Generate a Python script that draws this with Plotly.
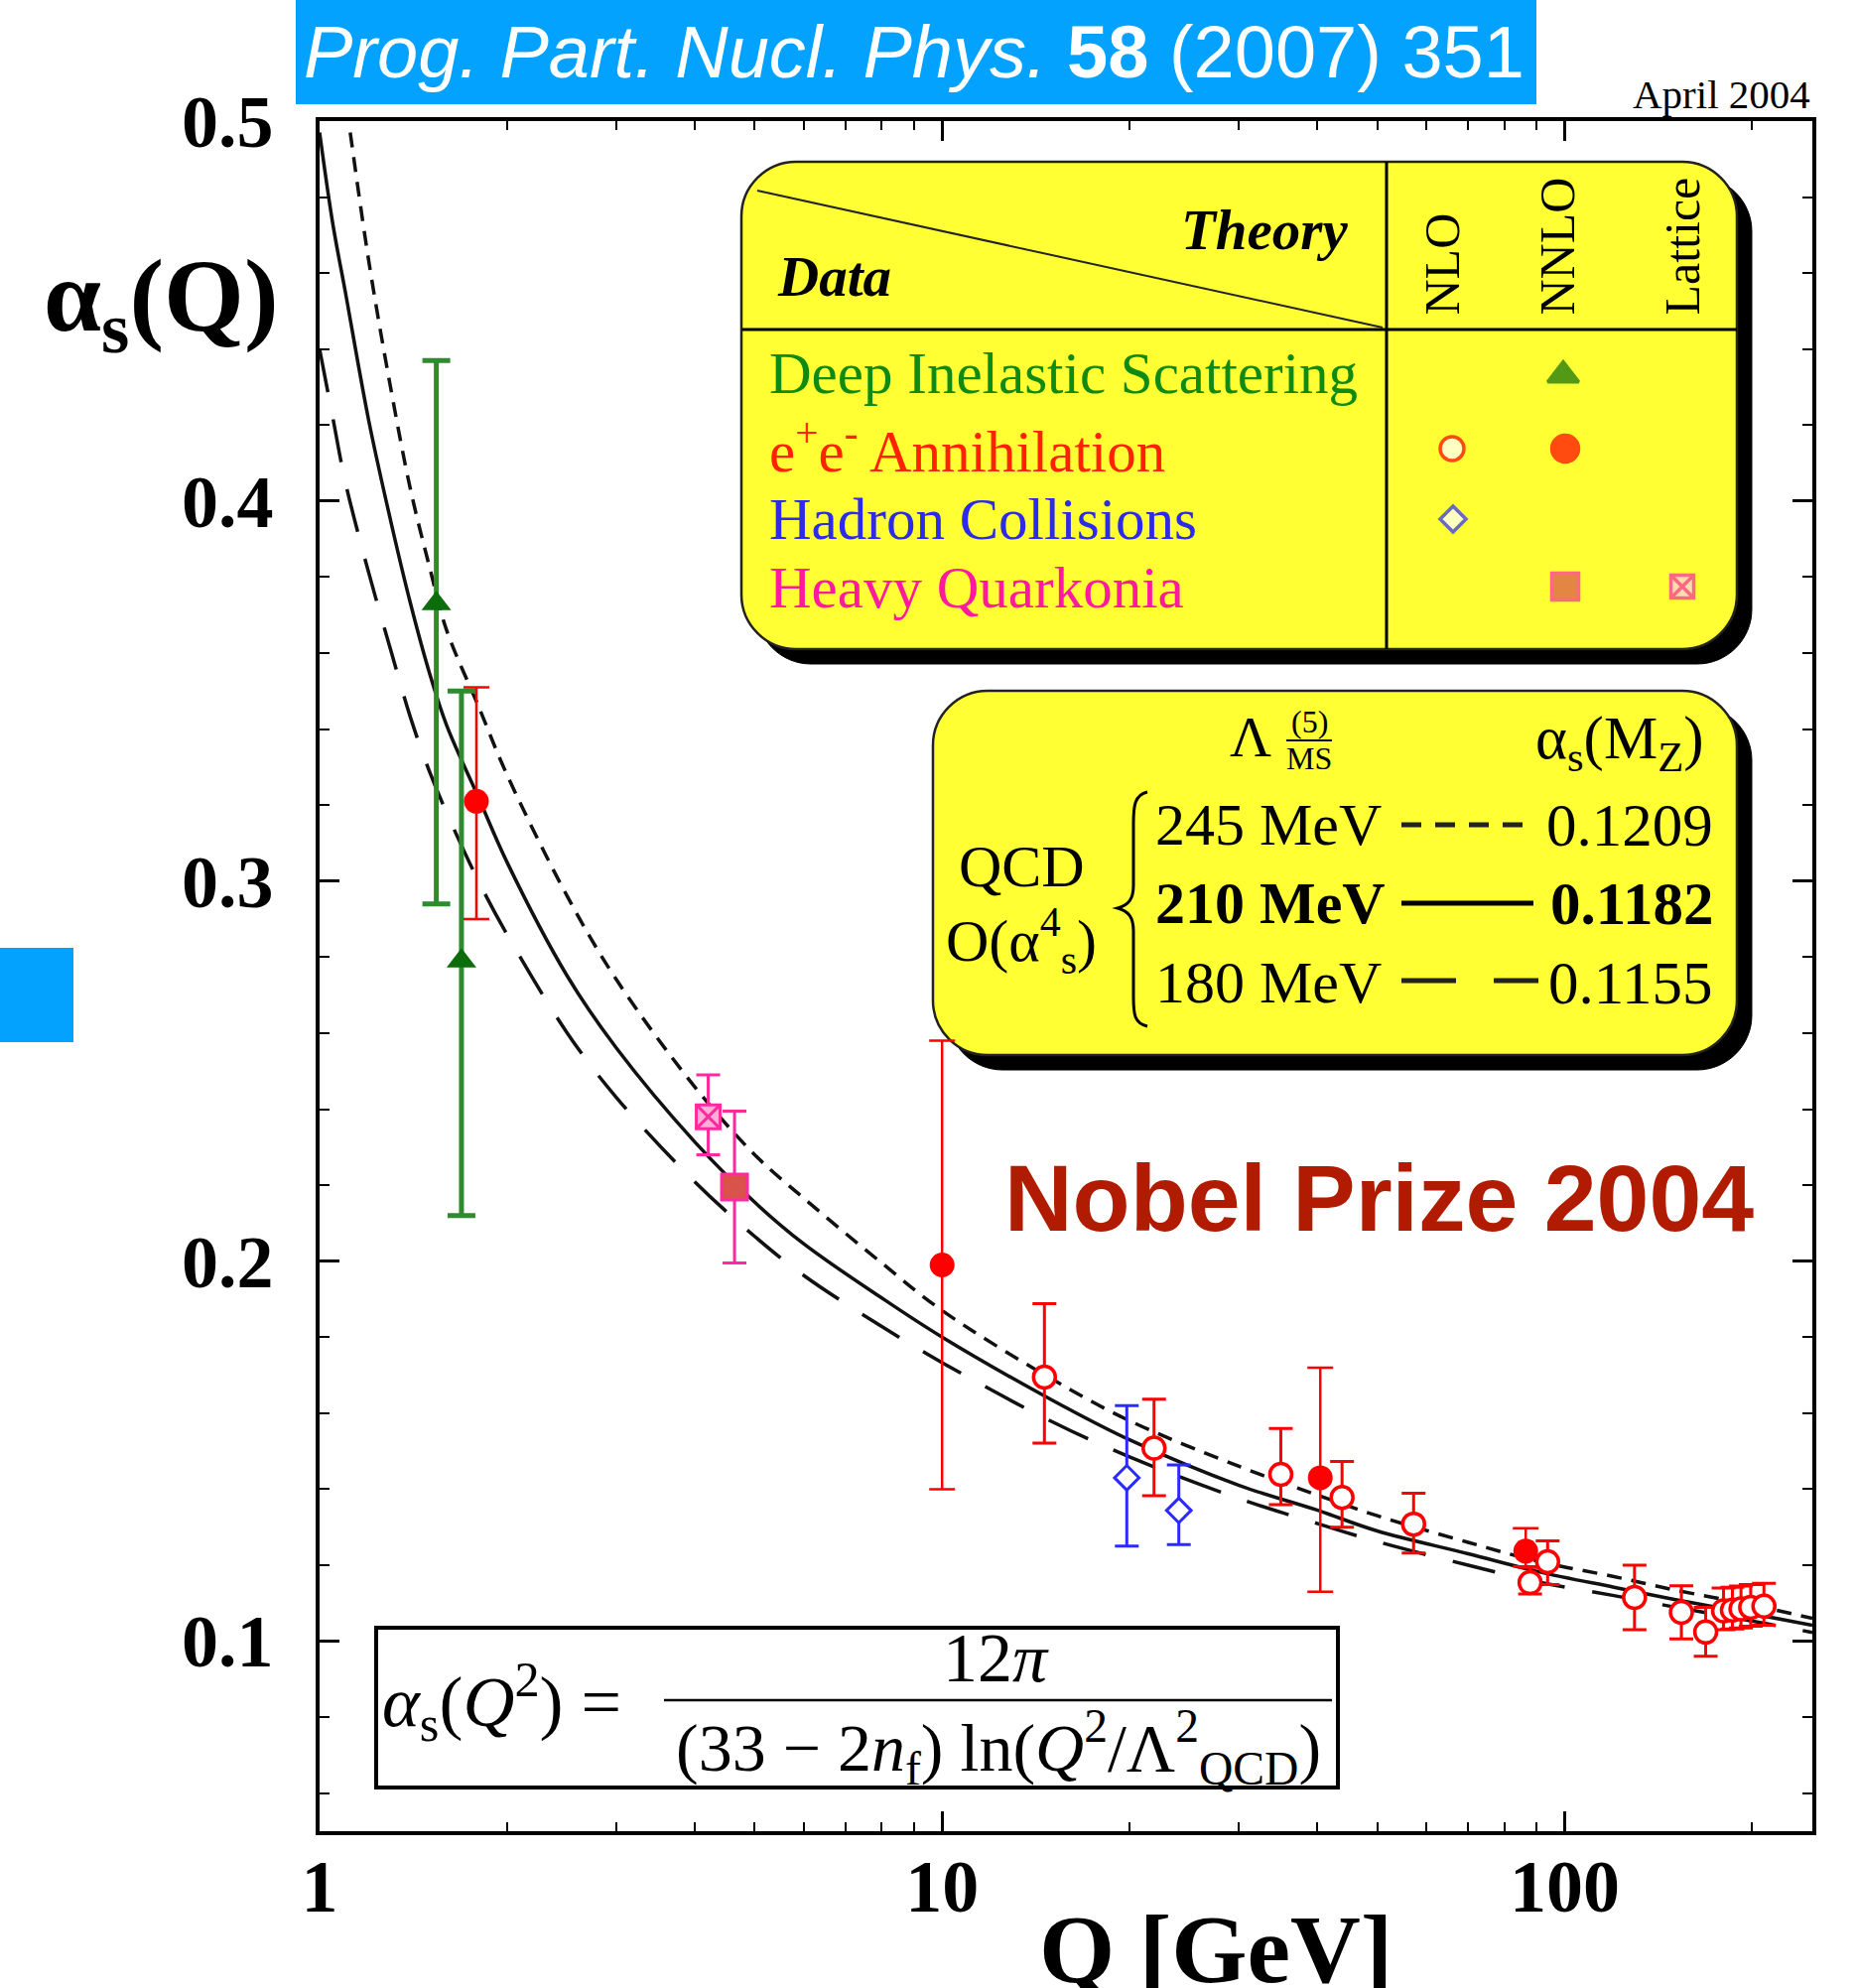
import plotly.graph_objects as go

# ---------------- data ----------------
# QCD running-coupling curves
curve_Q_245 = [1.12, 1.2, 1.3, 1.4, 1.5, 1.6, 1.8, 2.0, 2.5, 3.0, 4.0, 5.0, 6.0, 8.0, 10, 15, 20, 30, 40, 50, 70, 91.2, 120, 150, 200, 250]
curve_a_245 = [0.497, 0.463, 0.430, 0.403, 0.383, 0.366, 0.346, 0.328, 0.296, 0.274, 0.246, 0.228, 0.2165, 0.1995, 0.187, 0.169, 0.158, 0.146, 0.1385, 0.133, 0.126, 0.1209, 0.117, 0.1135, 0.1095, 0.106]
curve_Q_210 = [1.0, 1.05, 1.1, 1.2, 1.3, 1.4, 1.5, 1.6, 1.8, 2.0, 2.5, 3.0, 4.0, 5.0, 6.0, 8.0, 10, 15, 20, 30, 40, 50, 70, 91.2, 120, 150, 200, 250]
curve_a_210 = [0.497, 0.473, 0.455, 0.421, 0.395, 0.373, 0.355, 0.341, 0.322, 0.305, 0.275, 0.256, 0.2315, 0.2155, 0.2045, 0.1903, 0.180, 0.1635, 0.153, 0.141, 0.1345, 0.129, 0.123, 0.1182, 0.1142, 0.111, 0.1072, 0.1042]
curve_Q_180 = [1.0, 1.05, 1.1, 1.2, 1.3, 1.4, 1.5, 1.6, 1.8, 2.0, 2.5, 3.0, 4.0, 5.0, 6.0, 8.0, 10, 15, 20, 30, 40, 50, 70, 91.2, 120, 150, 200, 250]
curve_a_180 = [0.440, 0.422, 0.405, 0.381, 0.361, 0.343, 0.329, 0.318, 0.300, 0.286, 0.260, 0.243, 0.221, 0.2065, 0.1962, 0.1828, 0.1733, 0.1578, 0.1485, 0.1375, 0.131, 0.1262, 0.120, 0.1155, 0.112, 0.109, 0.1053, 0.1023]

# Deep inelastic scattering (NNLO)
dis_Q = [1.54, 1.69]
dis_a = [0.373, 0.279]
dis_up = [0.064, 0.071]
dis_dn = [0.079, 0.067]

# e+e- annihilation, NNLO (filled)
ee_nnlo_Q = [1.786, 10.0, 40.5, 86.6]
ee_nnlo_a = [0.321, 0.199, 0.143, 0.1237]
ee_nnlo_up = [0.030, 0.059, 0.029, 0.006]
ee_nnlo_dn = [0.031, 0.059, 0.030, 0.004]

# e+e- annihilation, NLO (open)
ee_nlo_Q = [14.6, 21.9, 35.0, 43.9, 57.2, 88.0, 93.9, 129.5, 154, 168.5, 180, 186, 192, 199, 209]
ee_nlo_a = [0.1695, 0.1508, 0.1439, 0.1378, 0.1308, 0.1154, 0.1209, 0.1115, 0.1076, 0.1024, 0.1080, 0.1082, 0.1085, 0.1089, 0.1092]
ee_nlo_up = [0.0193, 0.0129, 0.0121, 0.0095, 0.0081, 0.004, 0.0055, 0.0085, 0.007, 0.0065, 0.006, 0.006, 0.006, 0.006, 0.006]
ee_nlo_dn = [0.0174, 0.0125, 0.0080, 0.0078, 0.0076, 0.003, 0.0060, 0.0085, 0.007, 0.0064, 0.005, 0.005, 0.005, 0.005, 0.005]

# Hadron collisions (NLO)
had_Q = [19.8, 24.0]
had_a = [0.143, 0.1344]
had_up = [0.019, 0.012]
had_dn = [0.018, 0.009]

# Heavy quarkonia: NNLO (filled square) and lattice
hq_Q = [4.64]
hq_a = [0.2195]
hq_up = [0.020]
hq_dn = [0.020]
lat_Q = [4.21]
lat_a = [0.238]
lat_up = [0.011]
lat_dn = [0.010]

x_tickvals = [1, 10, 100]
x_ticktext = ["1", "10", "100"]
x_minor = [2, 3, 4, 5, 6, 7, 8, 9, 20, 30, 40, 50, 60, 70, 80, 90, 200]
y_tickvals = [0.1, 0.2, 0.3, 0.4, 0.5]
y_ticktext = ["0.1", "0.2", "0.3", "0.4", "0.5"]

# ---------------- geometry helpers (pixel -> paper) ----------------
PL, PR, PT, PB = 322, 1826, 122, 1845
W, H = PR - PL, PB - PT


def X(px):
    return (px - PL) / W


def Y(py):
    return (PB - py) / H


def P(x, y):
    return f"{X(x):.5f},{Y(y):.5f}"


def rrect(x0, y0, x1, y1, r):
    k = 0.45
    return (f"M{P(x0 + r, y0)} L{P(x1 - r, y0)} C{P(x1 - r * k, y0)} {P(x1, y0 + r * k)} {P(x1, y0 + r)} "
            f"L{P(x1, y1 - r)} C{P(x1, y1 - r * k)} {P(x1 - r * k, y1)} {P(x1 - r, y1)} "
            f"L{P(x0 + r, y1)} C{P(x0 + r * k, y1)} {P(x0, y1 - r * k)} {P(x0, y1 - r)} "
            f"L{P(x0, y0 + r)} C{P(x0, y0 + r * k)} {P(x0 + r * k, y0)} {P(x0 + r, y0)} Z")


SERIF = "Liberation Serif"
SANS = "Liberation Sans"
RED = "#FF0000"
GREEN = "#0B6E0B"
GREENBAR = "#2E8B2E"
BLUE = "#2B2BFF"
PINK = "#FF2AA0"

fig = go.Figure()

# theory curves
fig.add_trace(go.Scatter(x=curve_Q_245, y=curve_a_245, mode="lines", line_shape="spline",
                         line=dict(color="#111", width=3.5, dash="15px,10px"), hoverinfo="skip"))
fig.add_trace(go.Scatter(x=curve_Q_210, y=curve_a_210, mode="lines", line_shape="spline",
                         line=dict(color="#111", width=3.5), hoverinfo="skip"))
fig.add_trace(go.Scatter(x=curve_Q_180, y=curve_a_180, mode="lines", line_shape="spline",
                         line=dict(color="#111", width=3.5, dash="44px,28px"), hoverinfo="skip"))


def err(up, dn, color, th, w):
    return dict(type="data", symmetric=False, array=up, arrayminus=dn, color=color, thickness=th, width=w)


fig.add_trace(go.Scatter(x=dis_Q, y=dis_a, mode="markers",
                         error_y=err(dis_up, dis_dn, GREENBAR, 5, 14),
                         marker=dict(symbol="triangle-up", size=26, color=GREEN)))
fig.add_trace(go.Scatter(x=had_Q, y=had_a, mode="markers",
                         error_y=err(had_up, had_dn, BLUE, 3, 12),
                         marker=dict(symbol="diamond", size=19, color="white", line=dict(color=BLUE, width=3))))
fig.add_trace(go.Scatter(x=ee_nlo_Q, y=ee_nlo_a, mode="markers",
                         error_y=err(ee_nlo_up, ee_nlo_dn, RED, 3, 12),
                         marker=dict(symbol="circle", size=22, color="white", line=dict(color=RED, width=3.5))))
fig.add_trace(go.Scatter(x=ee_nnlo_Q, y=ee_nnlo_a, mode="markers",
                         error_y=err(ee_nnlo_up, ee_nnlo_dn, RED, 2.5, 13),
                         marker=dict(symbol="circle", size=25, color=RED)))
fig.add_trace(go.Scatter(x=lat_Q, y=lat_a, mode="markers",
                         error_y=err(lat_up, lat_dn, PINK, 3, 12),
                         marker=dict(symbol="square-x", size=24, color="#FFB0D8", line=dict(color=PINK, width=3))))
fig.add_trace(go.Scatter(x=hq_Q, y=hq_a, mode="markers",
                         error_y=err(hq_up, hq_dn, PINK, 3, 12),
                         marker=dict(symbol="square", size=26, color="#D9534A", line=dict(color=PINK, width=3))))

# legend-table symbols (pixel-positioned overlay axes)
leg_x = [1575, 1463, 1577, 1464, 1577, 1695]
leg_y = [378, 452, 452, 523, 591, 591]
leg_sym = ["triangle-up", "circle", "circle", "diamond", "square", "square-x"]
leg_col = [GREEN, "white", RED, "white", "#D9534A", "#FFD0E8"]
leg_lc = [GREEN, RED, RED, BLUE, PINK, PINK]
leg_sz = [27, 24, 27, 20, 27, 23]
fig.add_trace(go.Scatter(x=leg_x, y=leg_y, xaxis="x2", yaxis="y2", mode="markers",
                         marker=dict(symbol=leg_sym, color=leg_col, size=leg_sz,
                                     line=dict(color=leg_lc, width=3.5)), hoverinfo="skip"))

shapes = []
# banner and side block
shapes.append(dict(type="rect", xref="paper", yref="paper", x0=X(298), x1=X(1548), y0=Y(0), y1=Y(105),
                   fillcolor="#03A2FE", line=dict(width=0), layer="above"))
shapes.append(dict(type="rect", xref="paper", yref="paper", x0=X(0), x1=X(74), y0=Y(955), y1=Y(1050),
                   fillcolor="#03A2FE", line=dict(width=0), layer="above"))

# box 1 (data/theory table)
S = 15
shapes.append(dict(type="path", xref="paper", yref="paper", path=rrect(747 + S, 163 + S, 1750 + S, 654 + S, 55),
                   fillcolor="black", line=dict(color="black", width=1), layer="below"))
shapes.append(dict(type="path", xref="paper", yref="paper", path=rrect(747, 163, 1750, 654, 55),
                   fillcolor="#FFFF33", line=dict(color="#222", width=2.5), layer="below"))
shapes.append(dict(type="line", xref="paper", yref="paper", x0=X(748), x1=X(1750), y0=Y(332), y1=Y(332),
                   line=dict(color="black", width=3), layer="below"))
shapes.append(dict(type="line", xref="paper", yref="paper", x0=X(1397), x1=X(1397), y0=Y(163), y1=Y(654),
                   line=dict(color="black", width=3), layer="below"))
shapes.append(dict(type="line", xref="paper", yref="paper", x0=X(763), x1=X(1393), y0=Y(192), y1=Y(330),
                   line=dict(color="#222", width=2), layer="below"))

# box 2 (Lambda table)
shapes.append(dict(type="path", xref="paper", yref="paper", path=rrect(940 + S, 696 + S, 1750 + S, 1063 + S, 55),
                   fillcolor="black", line=dict(color="black", width=1), layer="below"))
shapes.append(dict(type="path", xref="paper", yref="paper", path=rrect(940, 696, 1750, 1063, 55),
                   fillcolor="#FFFF33", line=dict(color="#222", width=2.5), layer="below"))
# MS-bar line
shapes.append(dict(type="line", xref="paper", yref="paper", x0=X(1296), x1=X(1342), y0=Y(746), y1=Y(746),
                   line=dict(color="black", width=2)))
# brace
brace = (f"M{P(1156, 798)} C{P(1143, 801)} {P(1142, 812)} {P(1142, 830)} L{P(1142, 892)} "
         f"C{P(1142, 906)} {P(1137, 912)} {P(1126, 915)} C{P(1137, 918)} {P(1142, 924)} {P(1142, 938)} "
         f"L{P(1142, 1005)} C{P(1142, 1022)} {P(1143, 1031)} {P(1156, 1034)}")
shapes.append(dict(type="path", xref="paper", yref="paper", path=brace, line=dict(color="black", width=3)))
# line-style swatches
shapes.append(dict(type="line", xref="paper", yref="paper", x0=X(1412), x1=X(1538), y0=Y(831), y1=Y(831),
                   line=dict(color="#222", width=5, dash="20px,14px")))
shapes.append(dict(type="line", xref="paper", yref="paper", x0=X(1412), x1=X(1545), y0=Y(910), y1=Y(910),
                   line=dict(color="black", width=5)))
shapes.append(dict(type="line", xref="paper", yref="paper", x0=X(1412), x1=X(1550), y0=Y(988), y1=Y(988),
                   line=dict(color="#222", width=5, dash="55px,38px")))

# formula box
shapes.append(dict(type="rect", xref="paper", yref="paper", x0=X(379), x1=X(1348), y0=Y(1640), y1=Y(1801),
                   fillcolor="white", line=dict(color="black", width=4), layer="below"))
shapes.append(dict(type="line", xref="paper", yref="paper", x0=X(669), x1=X(1342), y0=Y(1713), y1=Y(1713),
                   line=dict(color="black", width=2.5)))

ann = []


def A(text, x, y, size, family=SERIF, color="black", xanchor="center", yanchor="middle", angle=0, weight=None):
    f = dict(family=family, size=size, color=color)
    if weight:
        f["weight"] = weight
    ann.append(dict(text=text, x=X(x), y=Y(y), xref="paper", yref="paper", showarrow=False,
                    xanchor=xanchor, yanchor=yanchor, textangle=angle, font=f))


# banner text
A("<i>Prog. Part. Nucl. Phys.</i> <b>58</b> (2007) 351", 921, 52, 74, family=SANS, color="white")
A("April 2004", 1826, 95, 41, xanchor="right")
A("<b>α<sub>s</sub>(Q)</b>", 42, 305, 104, xanchor="left")
A("<b>Q [GeV]</b>", 1225, 1908, 98, yanchor="top")
A("<b>Nobel Prize 2004</b>", 1389, 1207, 95, family=SANS, color="#B11B02")

# box 1 texts
A("<b><i>Theory</i></b>", 1274, 231, 57)
A("<b><i>Data</i></b>", 840, 278, 57)
A("NLO", 1453, 320, 50, angle=-90, yanchor="bottom")
A("NNLO", 1569, 320, 50, angle=-90, yanchor="bottom")
A("Lattice", 1695, 320, 50, angle=-90, yanchor="bottom")
A("Deep Inelastic Scattering", 773, 376, 59, color="#118A11", xanchor="left")
A("e<sup>+</sup>e<sup>-</sup> Annihilation", 773, 450, 59, color="#FF2200", xanchor="left")
A("Hadron Collisions", 773, 523, 59, color="#2B2BE8", xanchor="left")
A("Heavy Quarkonia", 773, 592, 59, color="#FF1A9E", xanchor="left")

# box 2 texts
A("Λ", 1260, 742, 58)
A("(5)", 1319, 727, 32)
A("MS", 1319, 764, 32)
A("α<sub>s</sub>(M<sub>Z</sub>)", 1632, 748, 61)
A("QCD", 1029, 873, 60)
A("O(α<sup>4</sup><sub>s</sub>)", 1029, 948, 60)
A("245 MeV", 1162, 831, 60, xanchor="left")
A("<b>210 MeV</b>", 1162, 910, 60, xanchor="left")
A("180 MeV", 1162, 990, 60, xanchor="left")
A("0.1209", 1728, 831, 61, xanchor="right")
A("<b>0.1182</b>", 1728, 910, 61, xanchor="right")
A("0.1155", 1728, 990, 61, xanchor="right")

# formula
A("<i>α</i><sub>s</sub>(<i>Q</i><sup>2</sup>) =", 383, 1714, 72, xanchor="left")
A("12<i>π</i>", 1003, 1670, 70)
A("(33 − 2<i>n</i><sub>f</sub>) ln(<i>Q</i><sup>2</sup>/Λ<sup>2</sup><sub>QCD</sub>)", 1006, 1760, 68)

axis_font = dict(family=SERIF, size=74, color="black", weight="bold")

fig.update_layout(
    width=1871, height=2003, autosize=False,
    margin=dict(l=PL, r=1871 - PR, t=PT, b=2003 - PB, pad=0),
    paper_bgcolor="white", plot_bgcolor="white",
    showlegend=False,
    shapes=shapes, annotations=ann,
    xaxis=dict(type="log", range=[0, 2.3979], tickmode="array", tickvals=x_tickvals, ticktext=x_ticktext,
               ticks="inside", ticklen=20, tickwidth=2.5, tickcolor="black",
               showline=True, linewidth=3.5, linecolor="black", mirror="ticks",
               showgrid=False, zeroline=False, tickfont=axis_font, ticklabelstandoff=-12,
               minor=dict(tickmode="array", tickvals=x_minor, ticks="inside", ticklen=9,
                          tickwidth=2, tickcolor="black", showgrid=False)),
    yaxis=dict(range=[0.05, 0.5], tickmode="array", tickvals=y_tickvals, ticktext=y_ticktext,
               ticks="inside", ticklen=20, tickwidth=2.5, tickcolor="black",
               showline=True, linewidth=3.5, linecolor="black", mirror="ticks",
               showgrid=False, zeroline=False, tickfont=axis_font, ticklabelstandoff=28,
               minor=dict(dtick=0.02, tick0=0, ticks="inside", ticklen=10, tickwidth=2,
                          tickcolor="black", showgrid=False)),
    xaxis2=dict(overlaying="x", range=[PL, PR], visible=False, anchor="y2"),
    yaxis2=dict(overlaying="y", range=[PB, PT], visible=False, anchor="x2"),
)

fig.write_html("out.html")
